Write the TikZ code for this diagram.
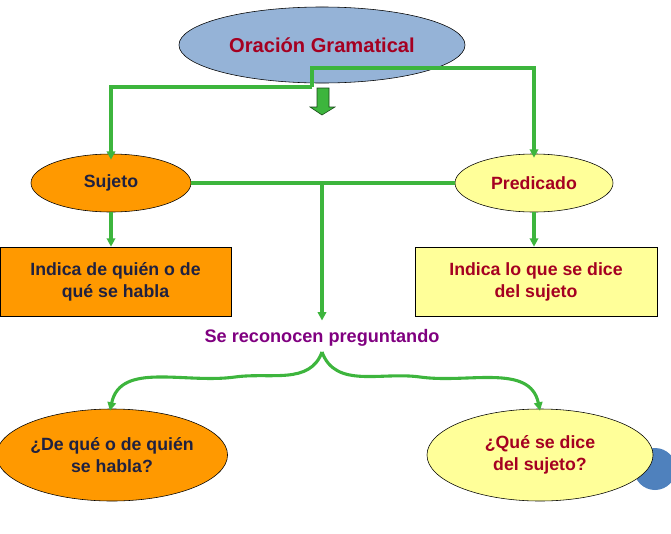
\documentclass[tikz,border=0pt]{standalone}
\usepackage{fontspec}
\setmainfont{Liberation Sans}
\usetikzlibrary{shapes.geometric,arrows.meta}
\definecolor{bleuciel}{HTML}{95B3D7}
\definecolor{orange}{HTML}{FF9900}
\definecolor{jaune}{HTML}{FFFF99}
\definecolor{rouge}{HTML}{A50021}
\definecolor{marine}{HTML}{1F2140}
\definecolor{violet}{HTML}{800080}
\definecolor{vert}{HTML}{3DB53D}
\definecolor{bleu}{HTML}{4F81BD}
\tikzset{
  texte/.style={font=\bfseries\fontsize{12.6}{15.6}\selectfont, align=center},
  bulle/.style={ellipse, draw=black, thin, inner sep=0pt, texte},
  boite/.style={rectangle, draw=black, thin, inner sep=0pt, texte},
  lien/.style={draw=vert, line width=2.2pt},
  fleche/.style={lien, -{Triangle[length=6pt,width=6pt]}},
}
\begin{document}
\begin{tikzpicture}[x=0.025cm, y=-0.025cm]
    \useasboundingbox (0,0) rectangle (671,533);

    % Le disque bleu derriere la derniere bulle
    \fill[bleu] (655,469) circle (21);

    % Les bulles et les boites
    \node (oracion) [bulle, fill=bleuciel, minimum width=7.15cm, minimum height=1.9cm,
        text=rouge, font=\bfseries\fontsize{14.3}{17}\selectfont] at (322,45) {Oración Gramatical};
    \node (sujeto) [bulle, fill=orange, minimum width=4cm, minimum height=1.45cm, text=marine] at (111,183) {Sujeto};
    \node (predicado) [bulle, fill=jaune, minimum width=3.95cm, minimum height=1.45cm, text=rouge] at (534,183) {Predicado};
    \node (quien) [boite, fill=orange, minimum width=5.775cm, minimum height=1.725cm, text=marine] at (115.5,281.5)
        {Indica de quién o de\\qué se habla};
    \node (dice) [boite, fill=jaune, minimum width=6.05cm, minimum height=1.725cm, text=rouge] at (536,281.5)
        {Indica lo que se dice\\del sujeto};
    \node (pregunta) [texte, text=violet, font=\bfseries\fontsize{12.9}{15}\selectfont] at (322,338) {Se reconocen preguntando};
    \node (qde) [bulle, fill=orange, minimum width=5.7cm, minimum height=2.3cm, text=marine] at (112,455)
        {¿De qué o de quién\\se habla?};
    \node (qdice) [bulle, fill=jaune, minimum width=5.65cm, minimum height=2.3cm, text=rouge] at (540,455)
        {¿Qué se dice\\del sujeto?};

    % Points de passage des liens
    \coordinate (crochetG) at (312,87);
    \coordinate (crochetD) at (312,68);
    \coordinate (milieu) at (322,182);
    \coordinate (pointe) at (322,352);

    % Les liens
    \draw[fleche] (crochetG) -| ([yshift=-0.15cm]sujeto.north);
    \draw[fleche] (crochetG) -- (crochetD) -| ([yshift=-0.1cm]predicado.north);
    \draw[lien] (sujeto.east) -- (predicado.west);
    \draw[fleche] (milieu) -- ([yshift=0.1cm]pregunta.north);
    \draw[fleche] (sujeto.south) -- (sujeto.south |- quien.north);
    \draw[fleche] (predicado.south) -- (predicado.south |- dice.north);
    \draw[fleche] (pointe) to[out=-110,in=8] (235,377) to[out=188,in=78] ([xshift=-0.05cm, yshift=-0.05cm]qde.north);
    \draw[fleche] (pointe) to[out=-70,in=172] (420,377) to[out=-8,in=102] ([yshift=-0.05cm]qdice.north);

    % La grosse fleche verte
    \filldraw[fill=vert, draw=black!60!vert, thin]
        (317,88) -- (329,88) -- (329,107) -- (335,107) -- (322,115) -- (310,107) -- (317,107) -- cycle;
\end{tikzpicture}
\end{document}
